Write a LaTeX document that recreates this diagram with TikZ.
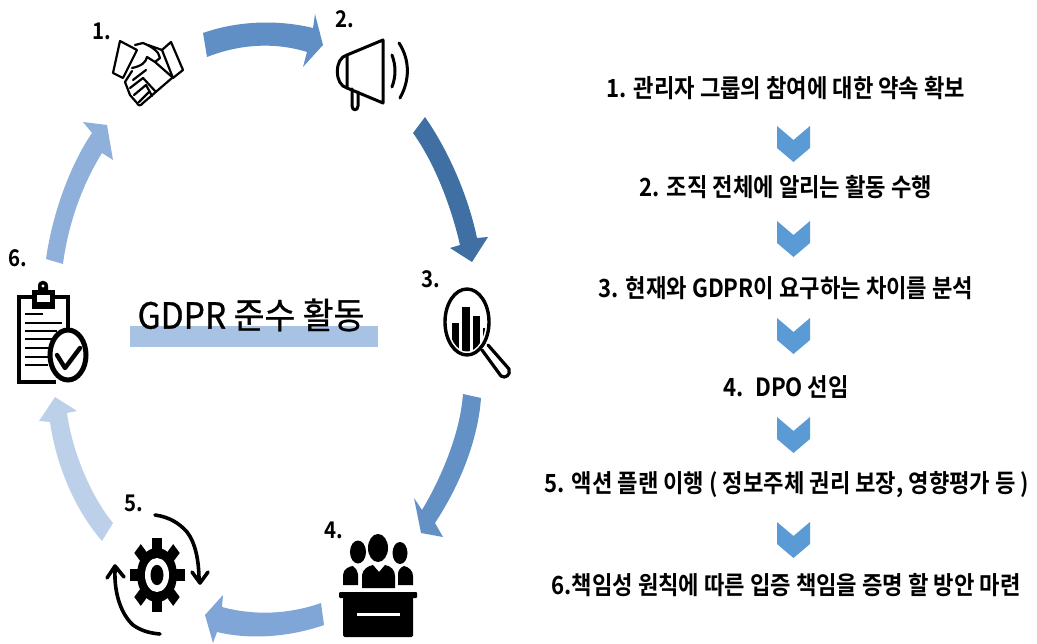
\documentclass[tikz,border=0pt]{standalone}
\usepackage{fontspec}
\setmainfont{Noto Sans CJK KR}[BoldFont={* Bold}]
\newfontfamily\stepfont{Noto Sans CJK KR}[BoldFont={* Bold},FakeStretch=0.888]
\newfontfamily\titlefont{Noto Sans CJK KR}[FakeStretch=0.93,FakeBold=0.8]
\definecolor{chevblue}{HTML}{5B9BD5}
\definecolor{a1}{HTML}{5F8FC4}
\definecolor{a2}{HTML}{3F6FA3}
\definecolor{a3}{HTML}{6391C6}
\definecolor{a4}{HTML}{7FA6D6}
\definecolor{a5}{HTML}{BCD0EA}
\definecolor{a6}{HTML}{8FB0DA}
\definecolor{barblue}{HTML}{A7C2E2}
\tikzset{
 steptext/.style={font=\stepfont\fontsize{25}{28}\selectfont\bfseries,text=black,inner sep=0pt,anchor=center},
 numtext/.style={font=\stepfont\fontsize{23}{26}\selectfont\bfseries,text=black,inner sep=0pt},
 chev/.style={fill=chevblue,draw=none},
 ic/.style={draw=black,line width=2.6pt,line join=round,line cap=round,fill=none},
}
\begin{document}
\begin{tikzpicture}[x=1pt,y=-1pt]
\useasboundingbox (0,0) rectangle (1037,644);
% big arrows
\fill[a1] (203,33) .. controls (240,20) and (280,20) .. (313,28) -- (315,14) -- (323,45) -- (303,67) -- (307,52) .. controls (275,42) and (240,44) .. (207,57) -- cycle;
\fill[a2] (413,133) -- (425,117) .. controls (448,150) and (468,195) .. (477,238) -- (488,237) -- (472,262) -- (450,248) -- (460,245) .. controls (452,210) and (436,165) .. (413,133) -- cycle;
\fill[a3] (463,394) -- (481,398) .. controls (478,440) and (460,485) .. (435,523) -- (443,537) -- (421,533) -- (414,498) -- (422,510) .. controls (440,480) and (460,435) .. (463,394) -- cycle;
\fill[a4] (321,603) -- (324,625) .. controls (290,637) and (250,640) .. (217,632) -- (213,643) -- (205,615) -- (223,595) -- (222,607) .. controls (255,616) and (290,614) .. (321,603) -- cycle;
\fill[a5] (113,523) -- (102,541) .. controls (75,510) and (56,465) .. (50,422) -- (39,421) -- (55,397) -- (77,411) -- (67,413) .. controls (72,450) and (90,495) .. (113,523) -- cycle;
\fill[a6] (46,259) -- (63,264) .. controls (68,225) and (82,185) .. (102,153) -- (113,160) -- (107,125) -- (83,122) -- (92,133) .. controls (70,165) and (52,215) .. (46,259) -- cycle;
% title
\fill[barblue] (130,326) rectangle (378,347);
\node[font=\titlefont\fontsize{36}{38}\selectfont,inner sep=0pt] (title) at (251,315) {GDPR 준수 활동};
% numbers
\node[numtext] (n1) at (102,31) {1.};
\node[numtext] (n2) at (345,19) {2.};
\node[numtext] (n3) at (431,279) {3.};
\node[numtext] (n4) at (334,530) {4.};
\node[numtext] (n5) at (134,503) {5.};
\node[numtext] (n6) at (18,258) {6.};
% handshake
\begin{scope}[ic,line width=2.2pt]
\draw (120,41) -- (137,50) -- (123,78) -- (113,73) -- cycle;
\draw (171,42) -- (183,70) -- (173,78) -- (162,50) -- cycle;
\draw (135,45) -- (143,43) .. controls (150,46) and (155,49) .. (158,53) -- (160,58) -- (155,62) -- (147,57) .. controls (146,62) and (142,66) .. (132,68);
\draw (162,50) -- (148,45);
\draw (172,78) -- (143,103) .. controls (141,106) and (138,106) .. (137,103) -- (130,95) -- (125,82) -- (132,71);
\draw (155,62) -- (171,76);
\draw (133,80) -- (146,70);
\draw (130,88) -- (143,78) -- (156,92);
\draw (134,95) -- (146,85) -- (152,96);
\draw (139,102) -- (149,92);
\end{scope}
% megaphone
\begin{scope}[ic,line width=3pt]
\draw (383,40) -- (383,103) -- (347,88) -- (347,55) -- cycle;
\draw (347,55) .. controls (334,58) and (334,85) .. (347,88);
\draw (352,89) -- (352,106) .. controls (352,111) and (358,111) .. (358,106) -- (358,92);
\draw (392,55) .. controls (396,66) and (396,76) .. (392,87);
\draw (399,43) .. controls (410,60) and (410,80) .. (400,98);
\end{scope}
% magnifier
\draw[ic,line width=3.4pt] (467,322) ellipse (22pt and 33pt);
\begin{scope}
\clip (467,322) ellipse (18.5pt and 29.5pt);
\fill[black] (452,323) rectangle (459,356);
\fill[black] (462,307) rectangle (470,356);
\fill[black] (473,316) rectangle (480,356);
\fill[black] (483,328) rectangle (490,356);
\end{scope}
\draw[ic,line width=3.2pt] (488,345) -- (509,369) .. controls (511,375) and (505,379) .. (501,376) -- (482,350);
% people at desk
\begin{scope}
\fill[black] (358,552) ellipse (8pt and 11.5pt);
\fill[black] (378,548) ellipse (10pt and 14pt);
\fill[black] (400,553) ellipse (7.5pt and 11pt);
\fill[black] (343,585) -- (343,575) .. controls (343,569) and (350,566) .. (353,566) .. controls (356,569) and (358,571) .. (358,574) -- (358,585) -- cycle;
\fill[black] (362,588) -- (362,575) .. controls (363,569) and (368,566) .. (373,565) -- (379,572) -- (385,565) .. controls (391,566) and (395,570) .. (395,576) -- (395,588) -- cycle;
\fill[black] (398,585) -- (398,574) .. controls (398,570) and (401,567) .. (404,566) .. controls (409,567) and (413,571) .. (413,576) -- (413,585) -- cycle;
\fill[black,rounded corners=1pt] (339,592) rectangle (417,598);
\fill[black,rounded corners=1.5pt] (343,597) rectangle (413,637);
\fill[white] (357,613) rectangle (400,616);
\end{scope}
% gear
\begin{scope}[shift={(157,575)},yscale=1.36]
\fill[black] (0,0) circle (20pt);
\foreach \a in {0,45,...,315}{
 \fill[black,rotate=\a] (-4.6,-27.5) rectangle (4.6,-15);
}
\fill[white] (0,0) ellipse (12pt and 12.5pt);
\fill[black] (0,0) ellipse (6.5pt and 7.5pt);
\end{scope}
\begin{scope}[ic,line width=3.6pt]
\draw (155,515) .. controls (170,517) and (180,524) .. (187,532) .. controls (195,542) and (199,560) .. (199,580);
\draw (192,572) -- (200,583) -- (208,572);
\draw (160,634) .. controls (148,633) and (140,630) .. (133,625) .. controls (122,615) and (114,595) .. (115,570);
\draw (107,578) -- (115,566) -- (124,577);
\end{scope}
% clipboard
\draw[black,line width=4pt,line join=miter] (33,297) -- (19,297) -- (19,382) -- (56,382);
\draw[black,line width=4pt,line join=miter] (54,297) -- (68,297) -- (68,335);
\fill[black] (32,290) rectangle (55,309);
\fill[black] (38,291) -- (38,286) .. controls (38,279) and (48,279) .. (48,286) -- (48,291) -- cycle;
\fill[white] (43,286) circle (1.7pt);
\fill[white] (37,295) rectangle (50,302);
\begin{scope}[draw=black,line width=2.8pt]
\draw (25,314) -- (43,314);
\draw (25,323) -- (62,323);
\draw (25,331) -- (57,331);
\draw (25,339) -- (53,339);
\draw (25,348) -- (50,348);
\draw (25,357) -- (48,357);
\draw (25,365) -- (48,365);
\end{scope}
\draw[black,line width=5pt,fill=white] (68,355) ellipse (18pt and 25pt);
\draw[ic,line width=4.4pt] (57,355) -- (65,368) -- (80,348);
% right column
\node[steptext] (s1) at (786,88) {1. 관리자 그룹의 참여에 대한 약속 확보};
\node[steptext] (s2) at (786,187) {2. 조직 전체에 알리는 활동 수행};
\node[steptext] (s3) at (786,288) {3. 현재와 GDPR이 요구하는 차이를 분석};
\node[steptext] (s4) at (786,387) {4.~ DPO 선임};
\node[steptext] (s5) at (787,485) {5. 액션 플랜 이행 ( 정보주체 권리 보장, 영향평가 등 )};
\node[steptext] (s6) at (786,585) {6.책임성 원칙에 따른 입증 책임을 증명 할 방안 마련};
\foreach \y in {126,221,318,417,522}{
 \fill[chev] (777,\y) -- (793.5,\y+14) -- (810,\y) -- (810,\y+22) -- (793.5,\y+36) -- (777,\y+22) -- cycle;
}
\end{tikzpicture}
\end{document}
